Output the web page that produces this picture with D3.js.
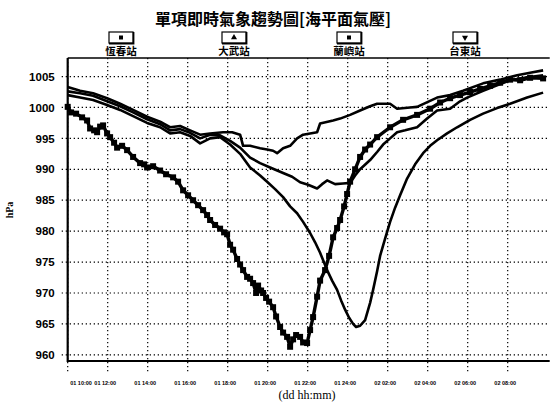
<!DOCTYPE html>
<html>
<head>
<meta charset="utf-8">
<script src="https://cdn.jsdelivr.net/npm/d3@7/dist/d3.min.js"></script>
<style>
  body { margin: 0; background: #fff; }
  svg { display: block; }
  .tick text { fill: #000; }
</style>
</head>
<body>
<div class="chart"></div>
<script>
// 測站與圖例符號
const stations = ['恆春站', '大武站', '蘭嶼站', '台東站'];
const symbols = ['square', 'triangle', 'square', 'triangleDown'];

// 座標刻度
const yTicks = [960, 965, 970, 975, 980, 985, 990, 995, 1000, 1005];
const xTicks = [10, 12, 14, 16, 18, 20, 22, 24, 26, 28, 30, 32];
const tickLabels = ['01 10:00', '01 12:00', '01 14:00', '01 16:00', '01 18:00', '01 20:00',
  '01 22:00', '01 24:00', '02 02:00', '02 04:00', '02 06:00', '02 08:00'];

// 時間 (自 01 00:00 起算之小時) 與氣壓 hPa
const hengchunHours = [10.0, 10.62, 11.27, 11.97, 12.62, 13.27, 13.97, 14.62, 15.12, 15.62,
  16.12, 16.62, 17.12, 17.62, 18.12, 18.62, 19.12, 19.62, 19.97, 20.37,
  20.77, 21.12, 21.47, 21.77, 22.12, 22.37, 22.62, 22.97, 23.22, 23.47,
  23.67, 23.87, 24.07, 24.27, 24.42, 24.62, 24.87, 25.12, 25.27, 25.47,
  25.62, 25.87, 26.12, 26.37, 26.62, 26.97, 27.37, 27.77, 28.12, 28.47,
  28.97, 29.47, 30.12, 30.77, 31.47, 32.12, 32.97, 33.77];
const hengchunHpa = [1002.0, 1001.6, 1001.2, 1000.4, 999.6, 998.6, 997.5, 996.8, 995.8, 996.0,
  995.4, 994.2, 995.0, 995.2, 994.0, 992.5, 990.3, 989.0, 988.0, 986.8,
  985.5, 984.0, 982.9, 981.5, 979.7, 978.2, 976.5, 973.7, 972.0, 970.5,
  968.8, 967.3, 966.0, 965.0, 964.5, 964.7, 965.6, 968.4, 970.5, 973.5,
  976.0, 978.8, 981.5, 983.8, 985.8, 988.5, 990.8, 992.6, 993.8, 994.7,
  995.8, 996.8, 998.0, 999.0, 999.9, 1000.6, 1001.6, 1002.4];

const dawuHours = [10.0, 10.62, 11.27, 11.97, 12.62, 13.27, 13.97, 14.62, 15.12, 15.62,
  16.12, 16.62, 17.12, 17.62, 18.12, 18.62, 19.12, 19.62, 20.12, 20.77,
  21.22, 21.62, 22.02, 22.47, 22.72, 22.97, 23.37, 23.77, 24.12, 24.37,
  24.62, 25.12, 25.47, 25.77, 26.12, 26.47, 26.87, 27.47, 27.97, 28.47,
  29.12, 29.62, 29.97, 30.77, 31.47, 32.12, 32.97, 33.77];
const dawuHpa = [1002.6, 1002.3, 1001.9, 1001.0, 1000.2, 999.2, 998.1, 997.3, 996.3, 996.5,
  995.9, 995.0, 995.6, 995.5, 994.6, 993.5, 991.9, 991.0, 990.3, 989.4,
  988.8, 987.9, 987.5, 986.9, 987.6, 988.2, 987.6, 987.7, 987.8, 989.0,
  990.0, 991.5, 992.8, 994.0, 995.0, 996.0, 996.3, 996.8, 998.2, 999.5,
  999.8, 1001.0, 1001.6, 1002.7, 1003.6, 1004.4, 1004.9, 1005.2];

const lanyuHours = [10.0, 10.17, 10.42, 10.72, 10.97, 11.12, 11.32, 11.47, 11.62, 11.77,
  11.97, 12.12, 12.32, 12.47, 12.72, 12.97, 13.27, 13.62, 13.82, 13.97,
  14.27, 14.62, 14.92, 15.27, 15.52, 15.77, 16.02, 16.27, 16.52, 16.77,
  16.97, 17.12, 17.37, 17.62, 17.82, 17.97, 18.12, 18.27, 18.47, 18.62,
  18.77, 18.97, 19.12, 19.27, 19.42, 19.52, 19.67, 19.77, 19.92, 20.07,
  20.27, 20.42, 20.62, 20.77, 20.97, 21.12, 21.27, 21.42, 21.62, 21.77,
  21.97, 22.12, 22.27, 22.47, 22.62, 22.87, 23.07, 23.27, 23.47, 23.62,
  23.82, 23.97, 24.12, 24.37, 24.62, 24.87, 25.12, 25.47, 26.12, 26.77,
  27.47, 28.12, 28.62, 29.12, 29.62, 30.12, 30.62, 31.12, 31.62, 32.12,
  32.62, 33.12, 33.77];
const lanyuHpa = [1000.1, 999.2, 999.0, 998.4, 997.9, 996.6, 996.3, 996.0, 996.9, 997.1,
  995.8, 995.2, 994.3, 993.5, 993.8, 993.1, 992.0, 991.0, 990.8, 990.3,
  990.5, 989.8, 989.2, 988.7, 988.0, 986.6, 985.8, 985.0, 984.2, 983.4,
  982.6, 981.8, 981.0, 980.4, 979.8, 979.5, 977.8, 977.0, 975.5, 974.6,
  973.7, 972.6, 972.3, 971.6, 970.0, 971.2, 970.4, 970.0, 969.2, 968.6,
  967.7, 966.2, 964.5, 963.6, 962.9, 961.3, 962.5, 963.2, 962.9, 962.0,
  961.9, 964.0, 966.1, 969.4, 972.0, 973.7, 976.0, 979.0, 980.5, 981.8,
  984.0, 986.0, 988.0, 990.0, 992.0, 993.2, 994.0, 995.2, 996.8, 998.0,
  998.8, 999.8, 1000.8, 1001.5, 1002.0, 1002.5, 1003.0, 1003.5, 1004.0, 1004.5,
  1004.4, 1004.8, 1004.7];

const taitungHours = [10.0, 10.62, 11.27, 11.97, 12.62, 13.27, 13.97, 14.62, 15.12, 15.62,
  16.12, 16.62, 17.12, 17.77, 18.22, 18.62, 18.77, 19.12, 19.62, 19.97,
  20.27, 20.47, 20.77, 21.12, 21.47, 21.77, 22.12, 22.47, 22.62, 23.27,
  23.62, 24.12, 24.62, 25.12, 25.47, 26.12, 26.47, 27.12, 27.47, 28.47,
  29.12, 29.77, 30.77, 31.62, 32.47, 33.12, 33.77];
const taitungHpa = [1003.3, 1002.7, 1002.3, 1001.5, 1000.6, 999.6, 998.5, 997.7, 996.8, 997.0,
  996.3, 995.6, 995.8, 996.0, 996.0, 995.6, 993.8, 993.8, 993.4, 993.2,
  993.0, 992.6, 993.4, 993.8, 995.0, 995.6, 995.8, 996.0, 997.4, 997.9,
  998.2, 998.8, 999.5, 1000.2, 1000.6, 1000.6, 999.8, 1000.0, 1000.1, 1001.6,
  1002.0, 1002.7, 1003.9, 1004.5, 1005.2, 1005.6, 1006.0];

let canvas = {
  svg: {},
  xScale: {},
  yScale: {},
  config: {
    svgW: 552,
    svgH: 405,
    left: 67.7,
    right: 549.7,
    top: 58,
    bottom: 361
  },
  init: function () {
    this.svg = d3.select('.chart').append('svg')
      .attr('width', this.config.svgW)
      .attr('height', this.config.svgH);
    this.bind();
    this.rendor();
  },
  bind: function () {
    const c = this.config;
    this.xScale = d3.scaleLinear().domain([10, 34.1]).range([c.left, c.right]);
    this.yScale = d3.scaleLinear().domain([959, 1008]).range([c.bottom, c.top]);

    // 格線 (點線)
    const grid = this.svg.append('g').attr('class', 'grid')
      .attr('stroke', '#000').attr('stroke-width', 1.2).attr('stroke-dasharray', '1.3,2.7');
    grid.selectAll('line.h').data(yTicks).enter().append('line')
      .attr('class', 'h')
      .attr('x1', c.left - 6).attr('x2', c.right)
      .attr('y1', d => this.yScale(d)).attr('y2', d => this.yScale(d));
    grid.selectAll('line.v').data(xTicks).enter().append('line')
      .attr('class', 'v')
      .attr('x1', d => this.xScale(d)).attr('x2', d => this.xScale(d))
      .attr('y1', c.top).attr('y2', c.bottom + 11);

    // y 軸
    let yAxis = d3.axisLeft(this.yScale).tickValues(yTicks).tickSize(0).tickPadding(13)
      .tickFormat(d3.format('d'));
    this.svg.append('g')
      .attr('class', 'y axis')
      .attr('transform', `translate(${c.left}, 0)`)
      .call(yAxis)
      .call(g => g.select('.domain').remove())
      .selectAll('text')
      .style('font-family', '"Liberation Sans", Arial, sans-serif')
      .style('font-weight', 'bold')
      .style('font-size', '11.5px');

    // x 軸
    let xAxis = d3.axisBottom(this.xScale).tickValues(xTicks).tickSize(0).tickPadding(20)
      .tickFormat((d, i) => tickLabels[i]);
    this.svg.append('g')
      .attr('class', 'x axis')
      .attr('transform', `translate(0, ${c.bottom})`)
      .call(xAxis)
      .call(g => g.select('.domain').remove())
      .selectAll('text')
      .attr('text-anchor', (d, i) => i === 0 ? 'start' : 'middle')
      .attr('dx', (d, i) => i === 0 ? 2 : -3)
      .style('font-family', '"Liberation Sans", Arial, sans-serif')
      .style('font-weight', 'bold')
      .style('font-size', '5.5px');

    // 框線
    this.svg.append('line')
      .attr('x1', c.left).attr('x2', c.right).attr('y1', c.top).attr('y2', c.top)
      .attr('stroke', '#000').attr('stroke-width', 1.5);
    this.svg.append('line')
      .attr('x1', c.left).attr('x2', c.left).attr('y1', c.top).attr('y2', c.bottom + 1)
      .attr('stroke', '#000').attr('stroke-width', 2.2);
    this.svg.append('line')
      .attr('x1', c.left).attr('x2', c.right).attr('y1', c.bottom).attr('y2', c.bottom)
      .attr('stroke', '#000').attr('stroke-width', 2.2);

    // 標題與軸名稱
    this.svg.append('text')
      .attr('x', 273).attr('y', 25)
      .attr('text-anchor', 'middle')
      .style('font-family', '"Noto Sans CJK TC", sans-serif')
      .style('font-weight', 'bold')
      .style('font-size', '16px')
      .text('單項即時氣象趨勢圖[海平面氣壓]');
    this.svg.append('text')
      .attr('transform', 'translate(13, 210) rotate(-90)')
      .attr('text-anchor', 'middle')
      .style('font-family', '"Liberation Serif", serif')
      .style('font-weight', 'bold')
      .style('font-size', '10px')
      .text('hPa');
    this.svg.append('text')
      .attr('x', 307).attr('y', 399)
      .attr('text-anchor', 'middle')
      .style('font-family', '"Liberation Serif", serif')
      .style('font-size', '12px')
      .text('(dd hh:mm)');
  },
  rendor: function () {
    const series = [
      d3.zip(hengchunHours, hengchunHpa),
      d3.zip(dawuHours, dawuHpa),
      d3.zip(lanyuHours, lanyuHpa),
      d3.zip(taitungHours, taitungHpa)
    ];
    const line = d3.line()
      .x(d => this.xScale(d[0]))
      .y(d => this.yScale(d[1]));

    const plot = this.svg.append('g').attr('class', 'lines');
    plot.selectAll('path.series').data(series).enter().append('path')
      .attr('class', 'series')
      .attr('fill', 'none')
      .attr('stroke', '#000')
      .attr('stroke-width', (d, i) => i === 2 ? 3.4 : 2.6)
      .attr('stroke-linejoin', 'round')
      .attr('d', line);

    // 蘭嶼站資料點 (方塊)
    plot.selectAll('rect.pt').data(series[2]).enter().append('rect')
      .attr('class', 'pt')
      .attr('x', d => this.xScale(d[0]) - 3)
      .attr('y', d => this.yScale(d[1]) - 3)
      .attr('width', 6).attr('height', 6)
      .attr('fill', '#000');

    // 圖例
    const legendX = [121, 234, 349, 465];
    const legend = this.svg.append('g').attr('class', 'legend')
      .selectAll('g').data(stations).enter().append('g')
      .attr('transform', (d, i) => `translate(${legendX[i]}, 0)`);
    legend.append('rect')
      .attr('x', -12).attr('y', 32).attr('width', 24).attr('height', 11)
      .attr('fill', '#fff').attr('stroke', '#000').attr('stroke-width', 1.2);
    legend.append('path')
      .attr('d', 'M-12,43.6H12.6V32')
      .attr('fill', 'none').attr('stroke', '#000').attr('stroke-width', 1.6);
    legend.append('path')
      .attr('transform', (d, i) => symbols[i] === 'triangleDown' ? 'translate(0,37.5) rotate(180)' : 'translate(0,37.5)')
      .attr('d', (d, i) => d3.symbol()
        .type(symbols[i] === 'square' ? d3.symbolSquare : d3.symbolTriangle)
        .size(16)())
      .attr('fill', '#000');
    legend.append('text')
      .attr('y', 55)
      .attr('text-anchor', 'middle')
      .style('font-family', '"Noto Sans CJK TC", sans-serif')
      .style('font-weight', 'bold')
      .style('font-size', '10.5px')
      .text(d => d);
  }
};

canvas.init();
</script>
</body>
</html>
